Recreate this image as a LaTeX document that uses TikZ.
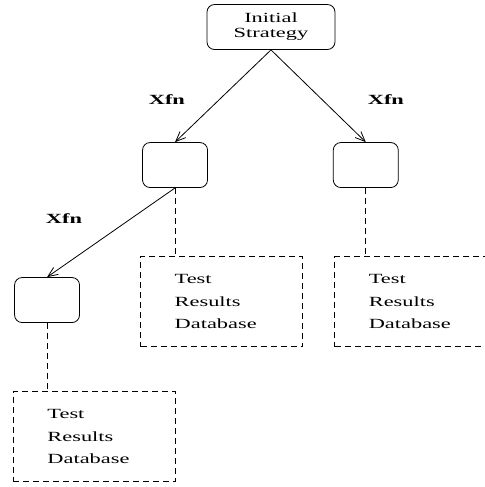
\documentclass[tikz,border=0pt]{standalone}
\usepackage{graphicx}
\usepackage{fontspec}
\setmainfont{Liberation Serif}
\usepackage{tikz}
\usetikzlibrary{arrows.meta, positioning}

% the drawing is stretched sideways, so is its text
\newcommand{\stretchtxt}[1]{\scalebox{1.6}[1]{#1}}

\begin{document}
\begin{tikzpicture}[node distance=3.6cm, line width=0.6pt]
\tikzstyle{state} = [rectangle, rounded corners=0.2cm, minimum width=1.714cm,
    minimum height=1.187cm, draw=black, inner sep=0pt]
\tikzstyle{dbbox} = [rectangle, dash pattern=on 4.5pt off 3pt, draw=black,
    minimum height=2.39cm, text width=2.48cm, inner xsep=0.895cm, align=left,
    font=\fontsize{10.5}{16.9}\selectfont]
\tikzstyle{arrow} = [-{Straight Barb[length=2.6mm,width=2.2mm]}]
\tikzstyle{link} = [dash pattern=on 4.5pt off 3pt]
\tikzstyle{xfn} = [font=\fontsize{10.5}{12}\selectfont\bfseries]

\useasboundingbox (-7.146,0.712) rectangle (5.643,-12.130);

\node (init) [state, minimum width=3.375cm, font=\fontsize{10.5}{11.25}\selectfont]
    {\stretchtxt{\begin{tabular}{@{}c@{}}Initial\\Strategy\end{tabular}}};

\node (midL) [state, below of=init, xshift=-2.53cm, yshift=-0.04cm] {};
\node (midR) [state, below of=init, xshift=2.50cm, yshift=-0.04cm] {};
\node (botL) [state, below of=midL, xshift=-3.375cm, yshift=0.04cm] {};

\node (dbL)  [dbbox, below of=midL, xshift=1.23cm]
    {\stretchtxt{\begin{tabular}{@{}l@{}}Test\\Results\\Database\end{tabular}}};
\node (dbR)  [dbbox, below of=midR, xshift=1.32cm]
    {\stretchtxt{\begin{tabular}{@{}l@{}}Test\\Results\\Database\end{tabular}}};
\node (dbB)  [dbbox, below of=botL, xshift=1.25cm]
    {\stretchtxt{\begin{tabular}{@{}l@{}}Test\\Results\\Database\end{tabular}}};

\draw [arrow] (init.south) -- node[xfn, midway, xshift=-1.48cm, yshift=-0.09cm] {\stretchtxt{Xfn}} (midL.north);
\draw [arrow] (init.south) -- node[xfn, midway, xshift=1.78cm, yshift=-0.09cm] {\stretchtxt{Xfn}} (midR.north);
\draw [arrow] (midL.south) -- node[xfn, midway, xshift=-1.24cm, yshift=0.38cm] {\stretchtxt{Xfn}} (botL.north);

\draw [link] (midL) -- (midL |- dbL.north);
\draw [link] (midR) -- (midR |- dbR.north);
\draw [link] (botL) -- (botL |- dbB.north);

\end{tikzpicture}
\end{document}
